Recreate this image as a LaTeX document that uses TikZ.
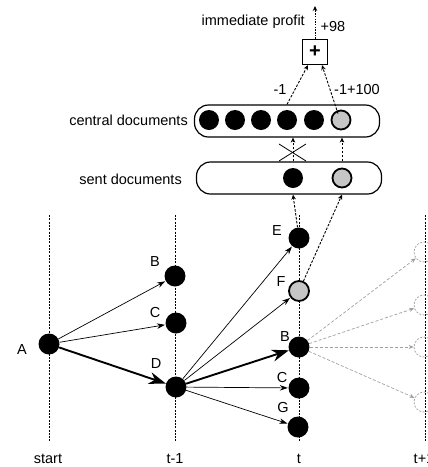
\documentclass[tikz,border=0pt]{standalone}
\usepackage{fontspec}
\setmainfont{Liberation Sans}
\usetikzlibrary{arrows.meta,calc}
\begin{document}
\begin{tikzpicture}[x=1pt,y=-1pt,
  font=\fontsize{14.5}{16}\selectfont,
  vline/.style={line width=0.7pt, dash pattern=on 2pt off 1.3pt},
  dot/.style={circle, fill=black, minimum size=21pt, inner sep=0pt},
  gdot/.style={circle, fill=gray!45, draw=black, line width=1.8pt, minimum size=20pt, inner sep=0pt},
  thinarr/.style={-{Stealth[length=8pt,width=5.5pt]}, line width=0.7pt, shorten >=0.5pt},
  thickarr/.style={-{Stealth[length=17pt,width=12pt]}, line width=1.9pt},
  uparr/.style={-{Stealth[length=5pt,width=4.5pt]}, line width=0.9pt, dash pattern=on 2.5pt off 1.5pt},
  grayarr/.style={draw=gray!75, -{Stealth[length=5pt,width=4pt]}, line width=0.7pt, dash pattern=on 3pt off 2pt},
  gcirc/.style={circle, draw=gray!75, dash pattern=on 2pt off 1.5pt, line width=0.7pt, minimum size=20pt, inner sep=0pt},
  docbox/.style={draw, rounded corners=14pt, line width=1.2pt, inner sep=0pt},
  lbl/.style={inner sep=0pt}
]
\useasboundingbox (0,0) rectangle (428,467);

% vertical time lines
\coordinate (v0a) at (49,215);  \coordinate (v0b) at (49,442);
\coordinate (v1a) at (175,215); \coordinate (v1b) at (175,442);
\coordinate (v2a) at (299,215); \coordinate (v2b) at (299,442);
\coordinate (v3a) at (425,215); \coordinate (v3b) at (425,442);
\draw[vline] (v0a) -- (v0b);
\draw[vline] (v1a) -- (v1b);
\draw[vline] (v2a) -- (v2b);
\draw[vline] (v3a) -- (v3b);

% time labels
\node[lbl] (lstart) at (48,459) {start};
\node[lbl] (lt1) at (175,459) {t-1};
\node[lbl] (lt) at (299,459) {t};
\node[lbl] (ltp) at (424,459) {t+1};

% tree nodes
\node[dot] (A) at (49,344) {};
\node[dot] (B1) at (175,276) {};
\node[dot] (C1) at (176,323) {};
\node[dot] (D1) at (176,387) {};
\node[dot] (E) at (299,238) {};
\node[gdot] (F) at (299,291) {};
\node[dot] (B2) at (299,347) {};
\node[dot] (C2) at (299,388) {};
\node[dot] (G) at (298,427) {};

\node[lbl] (lA) at (22,350) {A};
\node[lbl] (lB1) at (155,262) {B};
\node[lbl] (lC1) at (155,313) {C};
\node[lbl] (lD1) at (156,364) {D};
\node[lbl] (lE) at (277,231) {E};
\node[lbl] (lF) at (281,282) {F};
\node[lbl] (lB2) at (285,337) {B};
\node[lbl] (lC2) at (282,378) {C};
\node[lbl] (lG) at (283,408) {G};

% t+1 candidates
\node[gcirc] (n1) at (424,252) {};
\node[gcirc] (n2) at (424,305) {};
\node[gcirc] (n3) at (424,347) {};
\node[gcirc] (n4) at (424,402) {};

% edges
\draw[thinarr] (A) -- (B1);
\draw[thinarr] (A) -- (C1);
\draw[thickarr] (A) -- (D1);
\draw[thinarr] (D1) -- (E);
\draw[thinarr] (D1) -- (F);
\draw[thickarr] (D1) -- (B2);
\draw[thinarr] (D1) -- (C2);
\draw[thinarr] (D1) -- (G);
\draw[grayarr] (B2) -- (n1);
\draw[grayarr] (B2) -- (n2);
\draw[grayarr] (B2) -- (n3);
\draw[grayarr] (B2) -- (n4);

% document boxes
\node[docbox, minimum width=185pt, minimum height=32pt] (central) at (287,121) {};
\node[docbox, minimum width=185pt, minimum height=32pt] (sent) at (289,178) {};
\node[lbl, anchor=east] (lcentral) at (188,120) {central documents};
\node[lbl, anchor=east] (lsent) at (182,179) {sent documents};

\node[dot, minimum size=20pt] (cd1) at (209,120) {};
\node[dot, minimum size=20pt] (cd2) at (235,120) {};
\node[dot, minimum size=20pt] (cd3) at (261,120) {};
\node[dot, minimum size=20pt] (cd4) at (287,120) {};
\node[dot, minimum size=20pt] (cd5) at (314,120) {};
\node[gdot, minimum size=19pt] (cd6) at (341,120) {};

\node[dot, minimum size=20pt] (sd1) at (293,178) {};
\node[gdot, minimum size=19pt] (sd2) at (342,178) {};

% upward flows
\draw[uparr] (E) -- (sd1 |- sent.south);
\draw[uparr] (F) -- (sd2 |- sent.south);
\draw[uparr] (sd1 |- sent.north) -- (sd1 |- central.south);
\draw[uparr] (sd2 |- sent.north) -- (sd2 |- central.south);

% cross
\coordinate (x1) at (279,144); \coordinate (x2) at (306,161);
\coordinate (x3) at (306,144); \coordinate (x4) at (279,161);
\draw[line width=0.8pt] (x1) -- (x2);
\draw[line width=0.8pt] (x3) -- (x4);

% profit
\node[draw, line width=1.2pt, minimum size=25pt, inner sep=0pt] (plus) at (315,52) {\fontsize{20}{20}\selectfont\bfseries +};
\draw[uparr] (cd4 |- central.north) -- ($(plus.south)+(-7pt,0)$);
\draw[uparr] ($(cd6.north)+(-3pt,-4pt)$) -- ($(plus.south)+(7pt,0)$);
\node[lbl] (lm1) at (280,90) {-1};
\node[lbl] (lm2) at (357,90) {-1+100};

\coordinate (top) at (315,6);
\draw[-{Stealth[length=5pt,width=4.5pt]}, line width=0.9pt, dash pattern=on 1.5pt off 1.2pt] (plus.north) -- (top);
\node[lbl, anchor=east] (lprofit) at (305,22) {immediate profit};
\node[lbl] (l98) at (333,27) {+98};
\end{tikzpicture}
\end{document}
